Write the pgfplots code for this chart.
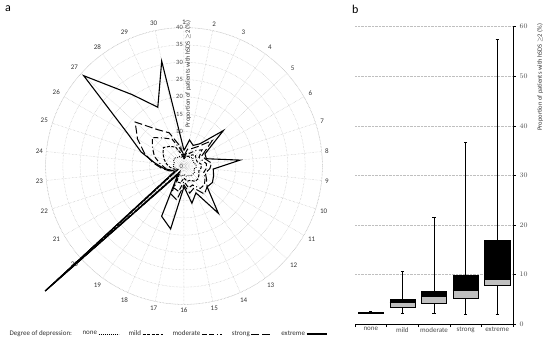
\documentclass[border=0pt]{standalone}
\usepackage{fontspec}
\setmainfont{Carlito}
\usepackage{pgfplots}
\pgfplotsset{compat=1.18}
\usepackage{pgfplotstable}
\usepgfplotslibrary{polar,statistics}

% spoke k = 1..30 (k=31 closes the polygon = k=1)
\pgfplotstableread{
k  none mild moderate strong extreme
1  2.5  2    2.5      3      4.5
2  3    3    4        5      7.7
3  3    3    4        5.5    6.5
4  3    4    5.5      7      8
5  3.5  4.5  7        11     15.3
6  3    4    5        6      7
7  3    4    5.5      6.5    6.8
8  3.5  5    6.5      8      16.3
9  3.5  5    6.5      7.5    8.5
10 3    4.5  6        6.5    9
11 3.5  5    7        7.5    9.5
12 3.5  5.5  8        9      9
13 3.5  5.5  8        10     16.9
14 3    4.5  6        7      8.5
15 3    4.5  6.5      8      11
16 2.5  3.5  4.5      5.5    6
17 3    5    7.5      10     18.6
18 3    5    7        9      15.9
19 2    2    2.5      3      3
20 53   53.5 54       54     54
21 2    2    2.5      3      3
22 2.5  3    4        4.5    4
23 3    4    5.5      6.5    6
24 3    5    7        9      8.5
25 3    6    9        12     13
26 3.5  7    10.5     15.5   18.8
27 3.5  8    12.3     19     39
28 3    7    10       13     25.5
29 3    6    8.5      10.5   18.6
30 2.5  3.5  5        6      31
31 2.5  2    2.5      3      4.5
}\radar

\begin{document}
\begin{tikzpicture}[x=1pt,y=1pt]
\useasboundingbox (0,0) rectangle (550,-343);
\node[anchor=north west,inner sep=0pt,font=\fontsize{12}{12}\selectfont] at (5,-5) {a};
\node[anchor=north west,inner sep=0pt,font=\fontsize{12}{12}\selectfont] at (352,-5) {b};

\begin{polaraxis}[
  at={(184pt,-166pt)}, anchor=center,
  scale only axis, width=276.8pt, height=276.8pt,
  ymin=0, ymax=40, ytick={5,10,...,40},
  yticklabel style={text opacity=0},
  xtick={6,18,...,354},
  xticklabels={8,7,6,5,4,3,2,1,30,29,28,27,26,25,24,23,22,21,20,19,18,17,16,15,14,13,12,11,10,9},
  xticklabel style={font=\fontsize{7}{8}\selectfont, text=black!80},
  major tick length=0pt,
  grid=major,
  major grid style={densely dotted, black!25, line width=0.5pt},
  x axis line style={densely dotted, black!25, line width=0.5pt},
  y axis line style={draw=none},
  clip=false,
  legend plot pos=right,
  legend columns=6,
  legend image code/.code={\draw[#1] (0pt,0pt) -- (20pt,0pt);},
  legend style={draw=none, fill=none, at={(axis description cs:-0.145,-0.107)}, anchor=west,
    font=\fontsize{7}{8}\selectfont, text=black!80,
    nodes={inner sep=1pt},
    /tikz/column sep=0pt,
    /tikz/every even column/.append style={column sep=8.5pt}},
]
\addlegendimage{empty legend}
\addlegendentry{Degree of depression:\hspace{-6pt}}
\addplot[black, line width=1pt, dash pattern=on 0.8pt off 1.2pt] table[x expr={102-12*\thisrow{k}}, y=none] {\radar};
\addlegendentry{none}
\addplot[black, line width=1pt, dash pattern=on 3pt off 1.5pt] table[x expr={102-12*\thisrow{k}}, y=mild] {\radar};
\addlegendentry{mild}
\addplot[black, line width=1pt, dash pattern=on 5pt off 2.5pt on 5pt off 2.5pt on 1pt off 2.5pt] table[x expr={102-12*\thisrow{k}}, y=moderate] {\radar};
\addlegendentry{moderate}
\addplot[black, line width=1pt, dash pattern=on 8pt off 3pt] table[x expr={102-12*\thisrow{k}}, y=strong] {\radar};
\addlegendentry{strong}
\addplot[black, line width=1.1pt] table[x expr={102-12*\thisrow{k}}, y=extreme] {\radar};
\addlegendentry{extreme}
\pgfplotsinvokeforeach{0,5,...,40}{
  \node[anchor=east, inner sep=1pt, font=\fontsize{6.5}{7}\selectfont, text=black!70] at (axis cs:90,#1) {#1};
}
\node[rotate=90, anchor=north, inner sep=1pt, font=\fontsize{6.5}{7}\selectfont, text=black!80] at (axis cs:90,26.6) {Proportion of patients with hSDS $\geq$2 (\%)};
\end{polaraxis}

\begin{axis}[
  at={(355pt,-324pt)}, anchor=south west,
  scale only axis, width=158pt, height=297.3pt,
  xmin=0, xmax=5, ymin=0, ymax=60,
  axis x line*=bottom, axis y line*=right,
  ytick={0,10,...,60},
  ymajorgrids, major grid style={densely dotted, black!25, line width=0.5pt},
  xtick={0,1,...,5}, xticklabels={},
  extra x ticks={0.5,1.5,2.5,3.5,4.5},
  extra x tick labels={none,mild,moderate,strong,extreme},
  extra x tick style={major tick length=0pt, grid=none},
  tick align=outside, major tick length=3pt,
  tick style={black, line width=0.6pt},
  axis line style={black, line width=0.8pt},
  ticklabel style={font=\fontsize{7}{8}\selectfont, text=black!70},
  ylabel={Proportion of patients with hSDS $\geq$2 (\%)},
  ylabel style={at={(axis description cs:1.171,0.83)}, anchor=center, font=\fontsize{6.5}{7}\selectfont, text=black!80},
  boxplot/draw direction=y,
]
% lower part (q1 to median, grey) with whiskers
\addplot[draw=black, fill=black!25, line width=0.5pt, boxplot prepared={draw position=0.5, box extend=0.8, whisker extend=0.1, lower whisker=2.2, lower quartile=2.2, median=2.3, upper quartile=2.3, upper whisker=2.5}] coordinates {};
\addplot[draw=black, fill=black!25, line width=0.5pt, boxplot prepared={draw position=1.5, box extend=0.8, whisker extend=0.1, lower whisker=2.15, lower quartile=3.4, median=4.3, upper quartile=4.3, upper whisker=10.6}] coordinates {};
\addplot[draw=black, fill=black!25, line width=0.5pt, boxplot prepared={draw position=2.5, box extend=0.8, whisker extend=0.1, lower whisker=2.15, lower quartile=4.2, median=5.65, upper quartile=5.65, upper whisker=21.5}] coordinates {};
\addplot[draw=black, fill=black!25, line width=0.5pt, boxplot prepared={draw position=3.5, box extend=0.8, whisker extend=0.1, lower whisker=2.0, lower quartile=5.2, median=6.9, upper quartile=6.9, upper whisker=36.7}] coordinates {};
\addplot[draw=black, fill=black!25, line width=0.5pt, boxplot prepared={draw position=4.5, box extend=0.8, whisker extend=0.1, lower whisker=2.0, lower quartile=7.9, median=9.0, upper quartile=9.0, upper whisker=57.5}] coordinates {};
% upper part (median to q3, black)
\addplot[draw=black, fill=black, line width=0.5pt, boxplot prepared={draw position=0.5, box extend=0.8, whisker extend=0, lower whisker=2.3, lower quartile=2.3, median=2.3, upper quartile=2.4, upper whisker=2.4}] coordinates {};
\addplot[draw=black, fill=black, line width=0.5pt, boxplot prepared={draw position=1.5, box extend=0.8, whisker extend=0, lower whisker=4.3, lower quartile=4.3, median=4.3, upper quartile=5.0, upper whisker=5.0}] coordinates {};
\addplot[draw=black, fill=black, line width=0.5pt, boxplot prepared={draw position=2.5, box extend=0.8, whisker extend=0, lower whisker=5.65, lower quartile=5.65, median=5.65, upper quartile=6.6, upper whisker=6.6}] coordinates {};
\addplot[draw=black, fill=black, line width=0.5pt, boxplot prepared={draw position=3.5, box extend=0.8, whisker extend=0, lower whisker=6.9, lower quartile=6.9, median=6.9, upper quartile=9.9, upper whisker=9.9}] coordinates {};
\addplot[draw=black, fill=black, line width=0.5pt, boxplot prepared={draw position=4.5, box extend=0.8, whisker extend=0, lower whisker=9.0, lower quartile=9.0, median=9.0, upper quartile=16.9, upper whisker=16.9}] coordinates {};
\end{axis}
\end{tikzpicture}
\end{document}
